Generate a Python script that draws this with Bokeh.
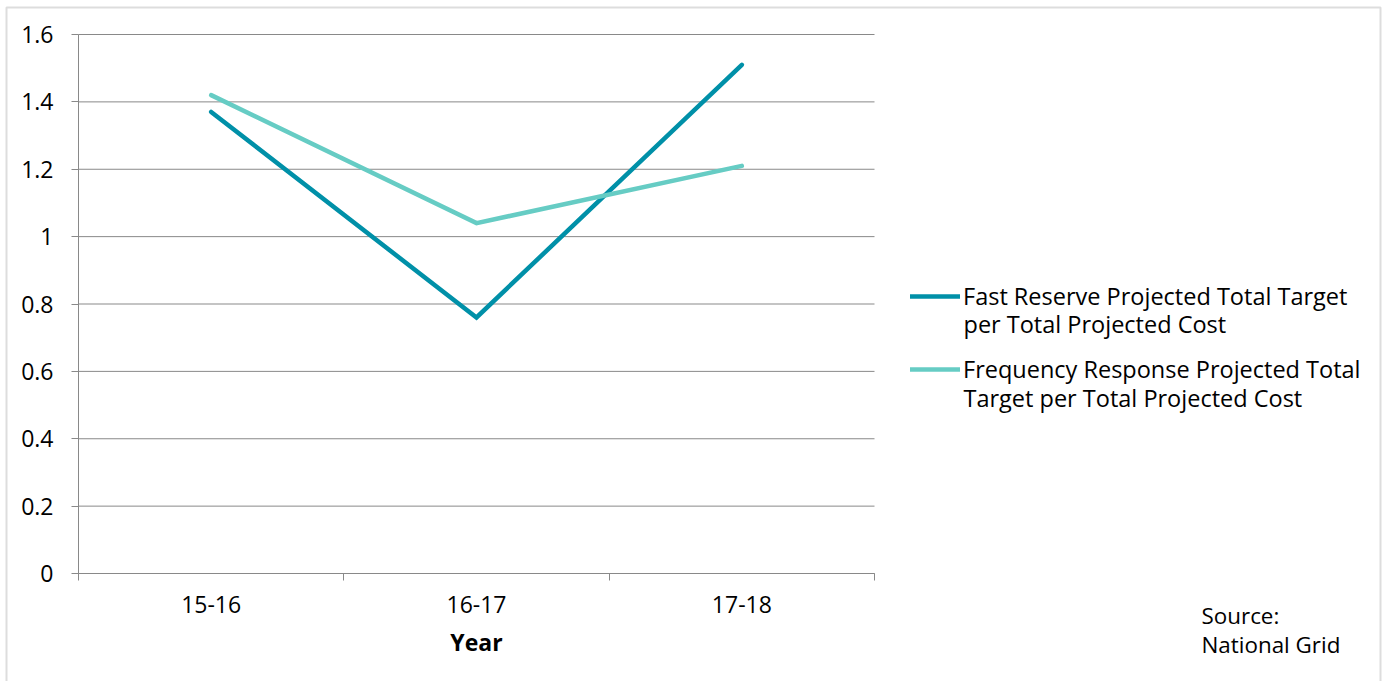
from bokeh.plotting import figure
from bokeh.models import (Range1d, FixedTicker, LinearAxis, Legend, LegendItem,
                          Label, BoxAnnotation, NumeralTickFormatter)
from bokeh.embed import file_html
from bokeh.resources import INLINE

# Ratio of projected total target to total projected cost, by year
years = ["15-16", "16-17", "17-18"]
fast_reserve = [1.37, 0.76, 1.51]
freq_response = [1.42, 1.04, 1.21]
y_ticks = [0, 0.2, 0.4, 0.6, 0.8, 1.0, 1.2, 1.4, 1.6]

series_names = [
    ("Fast Reserve Projected Total Target", "per Total Projected Cost"),
    ("Frequency Response Projected Total", "Target per Total Projected Cost"),
]
source_lines = ["Source:", "National Grid"]

FONT = "Open Sans"
FS = "23px"
GRAY = "#898989"
DARK_TEAL = "#0090A8"
LIGHT_TEAL = "#66CCC4"

W, H = 1387, 681
# plotting area on the canvas (pixels from top-left)
L, R, T, B = 78, 874, 34, 573

n = len(years)
y_max = y_ticks[-1]
# the frame fills the whole canvas; ranges are widened so that the
# data area lands on the plotting rectangle above
px_x = (R - L) / n
px_y = (B - T) / y_max
x_range = Range1d(-L / px_x, (W - L) / px_x)
y_range = Range1d(-(H - B) / px_y, y_max + T / px_y)

# categories sit in the middle of unit-wide slots
x_pos = [i + 0.5 for i in range(n)]

p = figure(width=W, height=H, output_backend="svg", toolbar_location=None,
           x_range=x_range, y_range=y_range,
           x_axis_type=None, y_axis_type=None,
           min_border=0, min_border_left=0, min_border_right=0,
           min_border_top=0, min_border_bottom=0)
p.outline_line_color = None
p.background_fill_color = "white"
p.border_fill_color = "white"
p.xgrid.visible = False
p.ygrid.visible = False

# horizontal gridlines across the category span
p.segment(x0=[0] * len(y_ticks), y0=y_ticks, x1=[n] * len(y_ticks), y1=y_ticks,
          line_color=GRAY, line_width=1)

# x axis: year labels at slot centres, small ticks at slot boundaries
xaxis = LinearAxis(
    fixed_location=0, bounds=(0, n),
    ticker=FixedTicker(ticks=x_pos, minor_ticks=list(range(n + 1))),
    major_label_overrides={x: y for x, y in zip(x_pos, years)},
    axis_label="Year",
    axis_label_text_font=FONT, axis_label_text_font_size=FS,
    axis_label_text_font_style="bold", axis_label_text_color="black",
    axis_label_standoff=10,
    major_label_text_font=FONT, major_label_text_font_size=FS,
    major_label_text_color="black", major_label_standoff=15,
    major_tick_line_color=None, major_tick_out=7, major_tick_in=0,
    minor_tick_line_color=GRAY, minor_tick_out=7, minor_tick_in=0,
    axis_line_color=GRAY,
)
p.add_layout(xaxis, "below")

yaxis = LinearAxis(
    fixed_location=0, bounds=(0, y_max),
    ticker=FixedTicker(ticks=y_ticks),
    formatter=NumeralTickFormatter(format="0.[0]"),
    major_label_text_font=FONT, major_label_text_font_size=FS,
    major_label_text_color="black", major_label_standoff=18,
    major_tick_line_color=GRAY, major_tick_out=7, major_tick_in=0,
    minor_tick_line_color=None, axis_line_color=GRAY,
)
p.add_layout(yaxis, "left")

fr = p.line(x_pos, fast_reserve, line_color=DARK_TEAL, line_width=4.5,
            line_join="miter", line_cap="round")
fq = p.line(x_pos, freq_response, line_color=LIGHT_TEAL, line_width=4.5,
            line_join="miter", line_cap="round")

# legend: one entry per series (first text line), second text line as a label
LEG_FS = "23.5px"
ROW_H = 31.3
for rend, (line1, line2), row_y, base2 in [(fr, series_names[0], 296, 323.5),
                                            (fq, series_names[1], 369.5, 397.5)]:
    leg = Legend(items=[LegendItem(label=line1, renderers=[rend])],
                 location=(910, H - (row_y + ROW_H / 2)),
                 glyph_width=50, glyph_height=28, label_height=28,
                 label_standoff=3, spacing=0, padding=0, margin=0,
                 border_line_color=None, background_fill_alpha=0,
                 label_text_font=FONT, label_text_font_size=LEG_FS,
                 label_text_color="black")
    p.add_layout(leg)
    p.add_layout(Label(x=963, y=H - base2, x_units="screen", y_units="screen",
                       text=line2, text_font=FONT, text_font_size=LEG_FS,
                       text_color="black", text_baseline="alphabetic"))

# source note
for txt, base in zip(source_lines, [615, 643.5]):
    p.add_layout(Label(x=1201, y=H - base, x_units="screen", y_units="screen",
                       text=txt, text_font=FONT, text_font_size="22.4px",
                       text_color="black", text_baseline="alphabetic"))

# frame around the whole chart (its lower edge runs past the canvas)
p.add_layout(BoxAnnotation(left=6, right=1380, top=H - 7, bottom=-40,
                           left_units="screen", right_units="screen",
                           top_units="screen", bottom_units="screen",
                           fill_alpha=0, line_color="#8e8e8e", line_width=2))

open("out.html", "w").write(file_html(p, INLINE))
